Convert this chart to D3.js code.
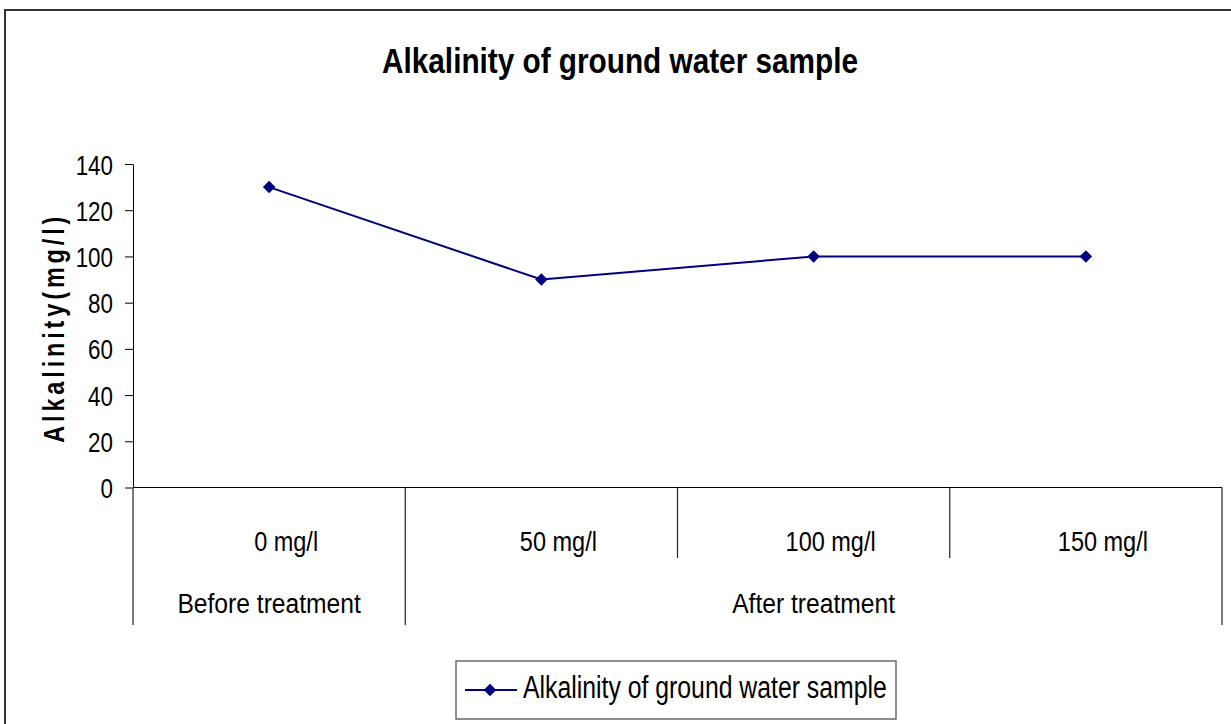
<!DOCTYPE html>
<html>
<head>
<meta charset="utf-8">
<script src="https://cdn.jsdelivr.net/npm/d3@7"></script>
<style>
  body { margin: 0; background: white; }
  text { font-family: "Liberation Sans", Arial, sans-serif; fill: #000; }
</style>
</head>
<body>
<svg id="chart" width="1231" height="724"></svg>
<script>
// data
var doses = ["0 mg/l", "50 mg/l", "100 mg/l", "150 mg/l"];
var groups = ["Before treatment", "After treatment"];
var group_of = [0, 1, 1, 1];
var alkalinity = [130, 90, 100, 100];
var y_ticks = [0, 20, 40, 60, 80, 100, 120, 140];
var series_name = "Alkalinity of ground water sample";

var navy = "#000080";
var svg = d3.select("#chart");

// the original uses a narrow face; squeeze Liberation Sans sideways instead
function narrow(sel, x, y, k, rot) {
  return sel.attr("x", 0).attr("y", 0)
    .attr("transform", "translate(" + x + "," + y + ")" + (rot ? " rotate(" + rot + ")" : "") + " scale(" + k + ",1)");
}

// outer frame (right and bottom edges fall off the picture)
svg.append("rect")
  .attr("x", 5).attr("y", 10)
  .attr("width", 1240).attr("height", 730)
  .attr("fill", "white").attr("stroke", "#333").attr("stroke-width", 2);

var plot = {left: 133, right: 1222, top: 164, bottom: 487.5};

var x = d3.scaleBand().domain(doses).range([plot.left, plot.right]);
var y = d3.scaleLinear().domain([0, 140]).range([plot.bottom, plot.top]);

// title
narrow(svg.append("text"), 620, 73, 0.85)
  .attr("text-anchor", "middle")
  .attr("font-size", 35).attr("font-weight", "bold")
  .text("Alkalinity of ground water sample");

// y axis
var tk = 0.8;
var yAxis = d3.axisLeft(y).tickValues(y_ticks).tickSize(8).tickSizeOuter(0);
var gy = svg.append("g").attr("transform", "translate(" + plot.left + ",0)").call(yAxis);
gy.select(".domain").attr("stroke", "#000");
gy.selectAll(".tick line").attr("stroke", "#000");
gy.selectAll(".tick text")
  .attr("x", -20 / tk).attr("dy", "0.36em")
  .attr("transform", "scale(" + tk + ",1)")
  .attr("font-size", 28).attr("font-family", null);

narrow(svg.append("text"), 64, (plot.top + plot.bottom) / 2 + 2, 0.78, -90)
  .attr("text-anchor", "middle")
  .attr("font-size", 30).attr("font-weight", "bold")
  .attr("letter-spacing", 5)
  .text("Alkalinity(mg/l)");

// x axis line
svg.append("line")
  .attr("x1", plot.left).attr("x2", plot.right)
  .attr("y1", plot.bottom).attr("y2", plot.bottom)
  .attr("stroke", "#000").attr("stroke-width", 1.2);

// separators between categories: short inside a group, long at group edges
var bounds = doses.map(function(d) { return x(d); }).concat([plot.right]);
bounds.forEach(function(bx, i) {
  var edge = (i === 0 || i === doses.length || group_of[i] !== group_of[i - 1]);
  svg.append("line")
    .attr("x1", bx).attr("x2", bx)
    .attr("y1", plot.bottom).attr("y2", edge ? 625 : 558)
    .attr("stroke", "#222").attr("stroke-width", 1.2);
});

// first level labels
svg.selectAll(".dose")
  .data(doses).enter().append("text")
  .attr("class", "dose")
  .each(function(d) {
    narrow(d3.select(this), x(d) + x.bandwidth() / 2 + 17, 551, 0.87);
  })
  .attr("text-anchor", "middle")
  .attr("font-size", 27)
  .text(function(d) { return d; });

// second level labels
groups.forEach(function(g, gi) {
  var members = doses.filter(function(d, i) { return group_of[i] === gi; });
  var x0 = x(members[0]);
  var x1 = x(members[members.length - 1]) + x.bandwidth();
  narrow(svg.append("text"), (x0 + x1) / 2, 613, 0.88)
    .attr("text-anchor", "middle")
    .attr("font-size", 28)
    .text(g);
});

// series
var line = d3.line()
  .x(function(d, i) { return x(doses[i]) + x.bandwidth() / 2; })
  .y(function(d) { return y(d); });

svg.append("path")
  .datum(alkalinity)
  .attr("d", line)
  .attr("fill", "none").attr("stroke", navy).attr("stroke-width", 2);

var diamond = d3.symbol().type(d3.symbolDiamond2).size(100);
svg.selectAll(".pt")
  .data(alkalinity).enter().append("path")
  .attr("class", "pt")
  .attr("d", diamond)
  .attr("transform", function(d, i) {
    return "translate(" + (x(doses[i]) + x.bandwidth() / 2) + "," + y(d) + ")";
  })
  .attr("fill", navy);

// legend
var lg = svg.append("g");
lg.append("rect")
  .attr("x", 456).attr("y", 661).attr("width", 440).attr("height", 58)
  .attr("fill", "white").attr("stroke", "#444").attr("stroke-width", 1.2);
lg.append("line")
  .attr("x1", 465).attr("x2", 517).attr("y1", 690).attr("y2", 690)
  .attr("stroke", navy).attr("stroke-width", 2);
lg.append("path")
  .attr("d", diamond)
  .attr("transform", "translate(490,690)")
  .attr("fill", navy);
narrow(lg.append("text"), 523, 698, 0.8)
  .attr("font-size", 31)
  .text(series_name);
</script>
</body>
</html>
